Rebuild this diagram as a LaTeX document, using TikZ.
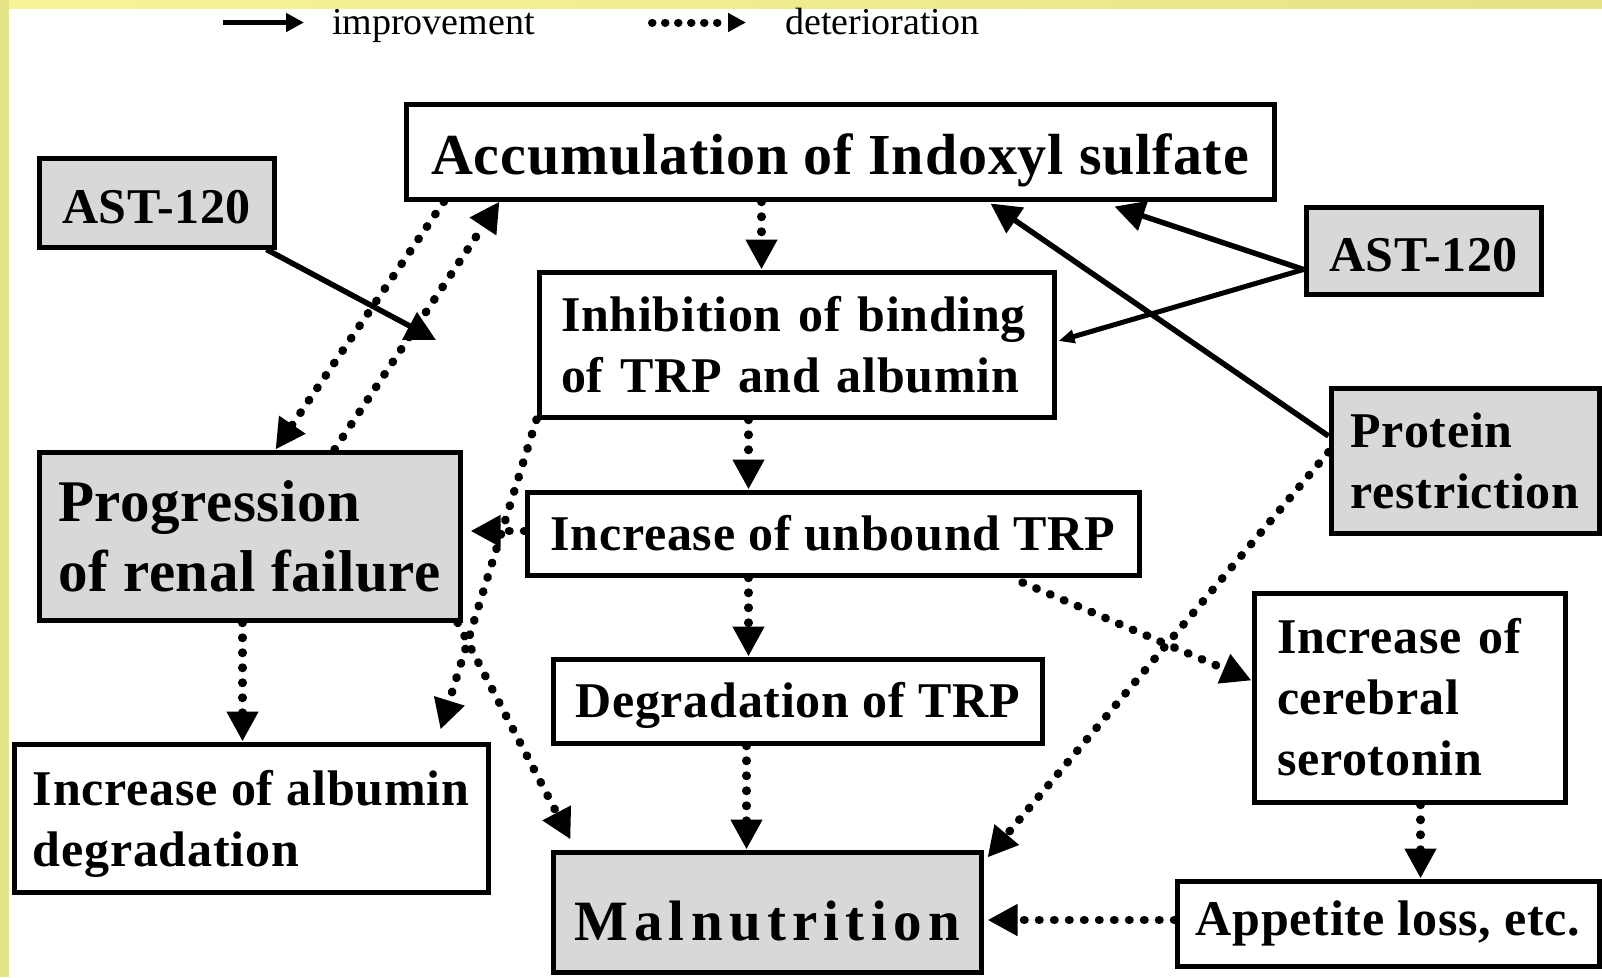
\documentclass[tikz,border=0pt]{standalone}
\usepackage{fontspec}
\setmainfont{Liberation Serif}
\usetikzlibrary{arrows.meta,calc}
\definecolor{ylwA}{RGB}{246,246,152}
\definecolor{ylwB}{RGB}{228,228,134}
\definecolor{boxgray}{RGB}{216,216,216}
\newcommand\myStrut[1]{\rule{0pt}{#1}}
\tikzset{
  box/.style={draw=black, line width=5pt, fill=white, inner sep=0pt, align=left},
  gbox/.style={box, fill=boxgray},
  fA/.style={font=\bfseries\fontsize{50}{61}\selectfont\addfontfeature{LetterSpace=1.5}},
  dotarr/.style={line width=8.5pt, line cap=round, dash pattern=on 0.5pt off 14.5pt,
    -{Triangle[length=30pt,width=30pt]}},
  solarr/.style={line width=5.5pt, -{Triangle[length=30pt,width=30pt]}},
  legtext/.style={font=\fontsize{38}{38}\selectfont, inner sep=0pt, anchor=base west},
}
\begin{document}
\begin{tikzpicture}[x=1pt,y=1pt]
\useasboundingbox (0,0) rectangle (1602,-977);
\fill[white] (0,0) rectangle (1602,-977);
\shade[left color=ylwA, right color=ylwB] (0,0) rectangle (1602,-8);
\fill[ylwB] (0,0) rectangle (9,-977);

% legend
\coordinate (l1s) at (223,-22.5);
\coordinate (l1e) at (304,-22.5);
\coordinate (l2s) at (652,-22.5);
\coordinate (l2e) at (746,-22.5);
\draw[line width=5pt, -{Triangle[length=18pt,width=18pt]}] (l1s) -- (l1e);
\draw[line width=8pt, line cap=round, dash pattern=on 0.5pt off 12.5pt, -{Triangle[length=18pt,width=18pt]}] (l2s) -- (l2e);
\node[legtext] (impr) at (332,-34) {improvement};
\node[legtext] (deter) at (785,-34) {deterioration};

% boxes
\node[box, minimum width=868pt, minimum height=95pt, font=\bfseries\fontsize{58}{58}\selectfont\addfontfeature{LetterSpace=1.5}] (acc) at (840,-151.5) {\myStrut{59pt}Accumulation of Indoxyl sulfate};
\node[gbox, fA, minimum width=235pt, minimum height=89pt] (astl) at (156.5,-202.5) {\myStrut{42pt}AST-120};
\node[box, fA, minimum width=515pt, minimum height=145pt, text width=471pt] (inh) at (796.5,-344.5) {Inhibition of binding\\of TRP and albumin};
\node[gbox, fA, minimum width=235pt, minimum height=87pt] (astr) at (1423.5,-250.5) {\myStrut{42pt}AST-120};
\node[gbox, fA, minimum width=268pt, minimum height=145pt] (prot) at (1465,-460.5) {Protein\\restriction};
\node[gbox, minimum width=421pt, minimum height=168pt, font=\bfseries\fontsize{59}{70}\selectfont\addfontfeature{LetterSpace=1}] (prog) at (249.5,-536) {Progression\\of renal failure};
\node[box, fA, minimum width=612pt, minimum height=83pt] (unb) at (833,-533.5) {Increase of unbound TRP};
\node[box, fA, minimum width=489pt, minimum height=84pt] (deg) at (797.5,-701) {\myStrut{44pt}Degradation of TRP};
\node[box, fA, minimum width=311pt, minimum height=209pt, text width=265pt] (sero) at (1409.5,-697.5) {Increase of\\cerebral\\serotonin};
\node[box, fA, minimum width=474pt, minimum height=148pt] (alb) at (251,-818) {\myStrut{48pt}Increase of albumin\\degradation};
\node[gbox, minimum width=428pt, minimum height=120pt, font=\bfseries\fontsize{57}{57}\selectfont\addfontfeature{LetterSpace=11}] (mal) at (767,-912) {\myStrut{58pt}Malnutrition};
\node[box, fA, minimum width=422pt, minimum height=85pt] (app) at (1388,-923.5) {Appetite loss, etc.};

\coordinate (astlend) at (436,-340);

% connectors
\draw[dotarr] ([xshift=40.5pt]acc.south west) -- ([xshift=239pt]prog.north west);
\draw[dotarr] ([xshift=298pt]prog.north west) -- ([xshift=96pt]acc.south west);
\draw[solarr] ([xshift=-10pt]astl.south east) -- (astlend);
\draw[dotarr] ([xshift=358pt]acc.south west) -- ([xshift=225pt]inh.north west);
\draw[solarr] ([yshift=-19pt]astr.west) -- ([xshift=711pt,yshift=-5pt]acc.south west);
\draw[line width=5pt, -{Triangle[length=16pt,width=13pt]}] ([yshift=-19pt]astr.west) -- ([xshift=2pt,yshift=3.5pt]inh.east);
\draw[solarr] ([yshift=24.5pt]prot.west) -- ([xshift=587pt,yshift=-2pt]acc.south west);
\draw[dotarr] ([yshift=8.5pt]prot.west) -- ([xshift=4pt,yshift=-8pt]mal.north east);
\draw[dotarr] ([xshift=212pt]inh.south west) -- ([xshift=224pt]unb.north west);
\draw[dotarr] ([yshift=2.5pt]unb.west) -- ([xshift=8pt,yshift=5pt]prog.east);
\draw[dotarr] (inh.south west) -- ([xshift=429pt,yshift=12pt]alb.north west);
\draw[dotarr] ([xshift=224pt]unb.south west) -- ([xshift=198pt]deg.north west);
\draw[dotarr] ([xshift=498pt,yshift=-5pt]unb.south west) -- ([yshift=17pt]sero.west);
\draw[dotarr] ([xshift=196pt]deg.south west) -- ([xshift=196pt]mal.north west);
\draw[dotarr] ([xshift=206pt]prog.south west) -- ([xshift=231pt]alb.north west);
\draw[dotarr] ([xshift=-5pt]prog.south east) -- ([xshift=20pt,yshift=10pt]mal.north west);
\draw[dotarr] ([xshift=169pt]sero.south west) -- ([xshift=246pt]app.north west);
\draw[dotarr] ([yshift=3.5pt]app.west) -- ([xshift=4pt,yshift=-8pt]mal.east);
\end{tikzpicture}
\end{document}
